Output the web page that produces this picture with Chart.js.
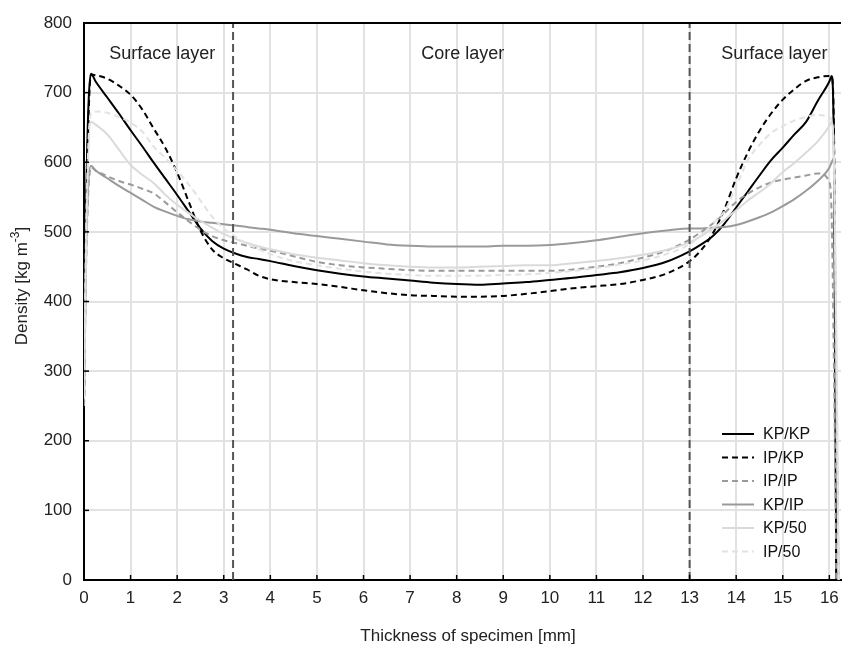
<!DOCTYPE html>
<html>
<head>
<meta charset="utf-8">
<script src="https://cdn.jsdelivr.net/npm/chart.js@4.4.1/dist/chart.umd.min.js"></script>
<style>
  html, body { margin: 0; padding: 0; background: #fff; }
  #wrap { width: 843px; height: 648px; }
</style>
</head>
<body>
<div id="wrap"><canvas id="densityChart" width="843" height="648"></canvas></div>
<script>
// thickness positions [mm] shared by all profiles
const thickness = [0, 0.05, 0.15, 0.25, 0.5, 0.75, 1, 1.25, 1.5, 1.75, 2, 2.25, 2.5, 2.75, 3, 3.25, 3.5, 3.75,
  4, 4.5, 5, 5.5, 6, 6.5, 7, 7.5, 8, 8.5, 9, 9.5, 10, 10.5, 11, 11.5, 12, 12.5,
  13, 13.25, 13.5, 13.75, 14, 14.25, 14.5, 14.75, 15, 15.25, 15.5, 15.75, 16, 16.05, 16.1, 16.15, 16.2];

// density profiles [kg m-3]
const kpKp = [280, 560, 727, 716, 693, 670, 646, 623, 599, 576, 553, 529, 505, 487, 476, 469, 464, 461,
  458, 451, 445, 440, 436, 433, 430, 427, 425, 424, 426, 428, 431, 434, 438, 442, 448, 457,
  472, 482, 494, 512, 535, 558, 581, 603, 621, 640, 658, 688, 716, 724, 600, 0, null];
const ipKp = [250, 520, 726, 725, 720, 710, 697, 676, 648, 620, 585, 543, 502, 475, 462, 454, 446, 437,
  432, 428, 425, 421, 416, 412, 409, 408, 407, 407, 408, 411, 415, 419, 422, 425, 431, 440,
  458, 474, 498, 533, 577, 614, 645, 670, 690, 705, 717, 722, 724, 722, 640, 0, null];
const ipIp = [250, 470, 593, 588, 580, 573, 568, 562, 555, 542, 528, 515, 503, 494, 488, 484, 480, 476,
  473, 465, 457, 452, 449, 447, 445, 444, 444, 444, 444, 444, 444, 446, 450, 455, 463, 473,
  489, 500, 512, 527, 543, 555, 564, 571, 575, 578, 581, 584, 572, 520, 300, 0, null];
const kpIp = [250, 480, 595, 588, 577, 566, 556, 546, 536, 529, 523, 518, 515, 513, 511, 509, 507, 505,
  503, 498, 494, 490, 486, 482, 480, 479, 479, 479, 480, 480, 481, 484, 488, 493, 498, 502,
  505, 505, 506, 507, 510, 515, 521, 528, 537, 547, 559, 573, 592, 600, 606, 250, 0];
const kp50 = [260, 500, 658, 654, 640, 618, 596, 582, 570, 553, 539, 527, 516, 506, 497, 490, 484, 479,
  475, 468, 463, 459, 455, 452, 450, 449, 449, 450, 451, 452, 452, 455, 458, 462, 467, 474,
  485, 494, 505, 517, 531, 545, 557, 570, 586, 599, 614, 630, 652, 658, 600, 350, 0];
const ip50 = [260, 520, 670, 673, 671, 665, 657, 644, 622, 606, 588, 568, 545, 522, 505, 493, 483, 475,
  468, 458, 452, 447, 443, 440, 438, 437, 437, 437, 438, 439, 441, 444, 448, 453, 459, 468,
  482, 495, 512, 530, 565, 603, 625, 642, 652, 660, 665, 668, 665, 660, 600, 350, 0];

// layer boundaries [mm]
const layerBounds = [3.2, 13];
const layerLabels = [
  { text: 'Surface layer', x: 1.68 },
  { text: 'Core layer', x: 8.13 },
  { text: 'Surface layer', x: 14.82 }
];

const FONT = "'Liberation Sans', Arial, sans-serif";

function toPoints(ys) {
  return thickness.map((x, i) => ({ x: x, y: ys[i] }));
}

const seriesDefs = [
  { label: 'KP/KP', data: kpKp, color: '#000000', dash: [] },
  { label: 'IP/KP', data: ipKp, color: '#000000', dash: [6, 4] },
  { label: 'IP/IP', data: ipIp, color: '#9a9a9a', dash: [6, 4] },
  { label: 'KP/IP', data: kpIp, color: '#9a9a9a', dash: [] },
  { label: 'KP/50', data: kp50, color: '#dadada', dash: [] },
  { label: 'IP/50', data: ip50, color: '#e2e2e2', dash: [6, 4] }
];

const datasets = [];
layerBounds.forEach(function (b) {
  datasets.push({
    label: 'bound',
    data: [{ x: b, y: 0 }, { x: b, y: 800 }],
    borderColor: '#555555',
    borderWidth: 2,
    borderDash: [8, 4],
    pointRadius: 0,
    fill: false
  });
});
// draw lightest first so darker lines stay on top
seriesDefs.slice().reverse().forEach(function (s) {
  datasets.push({
    label: s.label,
    data: toPoints(s.data),
    borderColor: s.color,
    borderWidth: 2,
    borderDash: s.dash,
    pointRadius: 0,
    fill: false,
    spanGaps: false,
    cubicInterpolationMode: 'monotone'
  });
});

const extras = {
  id: 'extras',
  afterDraw(chart) {
    const ctx = chart.ctx;
    const area = chart.chartArea;
    const xs = chart.scales.x;
    const ys = chart.scales.y;
    ctx.save();

    // top frame line
    ctx.strokeStyle = '#000';
    ctx.lineWidth = 2;
    ctx.beginPath();
    ctx.moveTo(area.left, area.top);
    ctx.lineTo(area.right, area.top);
    ctx.stroke();

    // inner tick marks
    ctx.lineWidth = 1.5;
    xs.ticks.forEach(function (t) {
      const px = xs.getPixelForValue(t.value);
      ctx.beginPath();
      ctx.moveTo(px, area.bottom);
      ctx.lineTo(px, area.bottom - 5);
      ctx.stroke();
    });
    ys.ticks.forEach(function (t) {
      const py = ys.getPixelForValue(t.value);
      ctx.beginPath();
      ctx.moveTo(area.left, py);
      ctx.lineTo(area.left + 5, py);
      ctx.stroke();
    });

    // layer labels
    ctx.fillStyle = '#222';
    ctx.font = '18px ' + FONT;
    ctx.textAlign = 'center';
    ctx.textBaseline = 'middle';
    layerLabels.forEach(function (l) {
      ctx.fillText(l.text, xs.getPixelForValue(l.x), ys.getPixelForValue(756));
    });

    // legend
    const lx = 722;
    const ly = 434;
    ctx.font = '16px ' + FONT;
    ctx.textAlign = 'left';
    seriesDefs.forEach(function (s, i) {
      const y = ly + i * 23.5;
      ctx.strokeStyle = s.color;
      ctx.lineWidth = 2;
      ctx.setLineDash(s.dash);
      ctx.beginPath();
      ctx.moveTo(lx, y);
      ctx.lineTo(lx + 32, y);
      ctx.stroke();
      ctx.setLineDash([]);
      ctx.fillStyle = '#111';
      ctx.fillText(s.label, lx + 41, y + 1);
    });

    // axis titles
    ctx.fillStyle = '#222';
    ctx.font = '17px ' + FONT;
    ctx.textAlign = 'center';
    ctx.fillText('Thickness of specimen [mm]', 468, 636);

    ctx.translate(22, 286);
    ctx.rotate(-Math.PI / 2);
    const main = 'Density [kg m';
    const sup = '-3';
    const tail = ']';
    ctx.font = '17px ' + FONT;
    const w1 = ctx.measureText(main).width;
    const w3 = ctx.measureText(tail).width;
    ctx.font = '12px ' + FONT;
    const w2 = ctx.measureText(sup).width;
    let x0 = -(w1 + w2 + w3) / 2;
    ctx.textAlign = 'left';
    ctx.font = '17px ' + FONT;
    ctx.fillText(main, x0, 0);
    ctx.font = '12px ' + FONT;
    ctx.fillText(sup, x0 + w1, -6);
    ctx.font = '17px ' + FONT;
    ctx.fillText(tail, x0 + w1 + w2, 0);

    ctx.restore();
  }
};

const ctx = document.getElementById('densityChart').getContext('2d');
new Chart(ctx, {
  type: 'line',
  data: { datasets: datasets },
  options: {
    responsive: false,
    animation: false,
    layout: { padding: { left: 0, top: 23, right: 2, bottom: 0 } },
    plugins: { legend: { display: false }, tooltip: { enabled: false } },
    scales: {
      x: {
        type: 'linear',
        min: 0,
        max: 16.25,
        afterFit: function (scale) {
          scale.height = 68;
          scale.paddingLeft = 0;
          scale.paddingRight = 0;
        },
        grid: { color: '#e2e2e2', lineWidth: 2, drawTicks: false },
        border: { color: '#000', width: 2 },
        ticks: {
          stepSize: 1,
          includeBounds: false,
          autoSkip: false,
          maxRotation: 0,
          padding: 8,
          color: '#222',
          font: { family: FONT, size: 17 }
        }
      },
      y: {
        min: 0,
        max: 800,
        afterFit: function (scale) {
          scale.width = 84;
          scale.paddingTop = 0;
          scale.paddingBottom = 0;
        },
        grid: { color: '#e2e2e2', lineWidth: 2, drawTicks: false },
        border: { color: '#000', width: 2 },
        ticks: {
          stepSize: 100,
          padding: 12,
          color: '#222',
          font: { family: FONT, size: 17 }
        }
      }
    }
  },
  plugins: [extras]
});
</script>
</body>
</html>
